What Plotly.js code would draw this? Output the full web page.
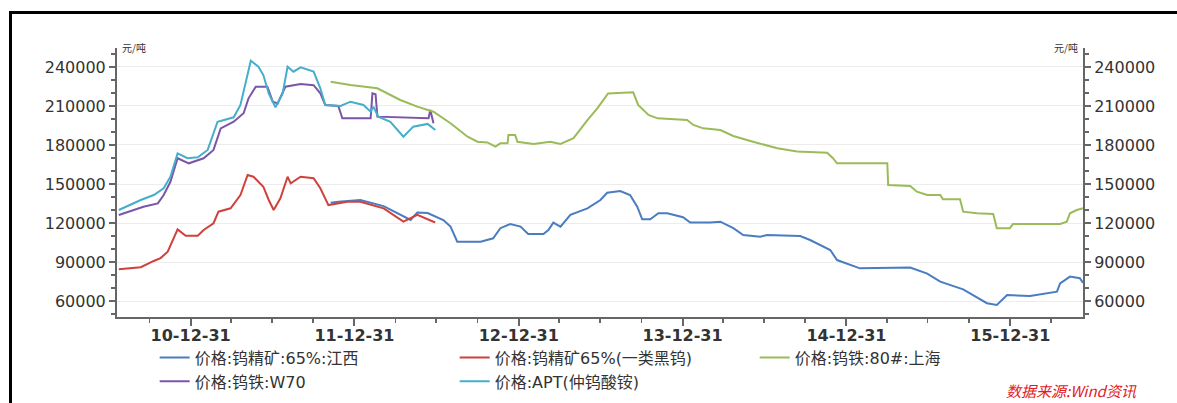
<!DOCTYPE html>
<html>
<head>
<meta charset="utf-8">
<script src="https://cdn.plot.ly/plotly-3.0.1.min.js"></script>
<style>
  html,body{margin:0;padding:0;background:#fff;}
  #wrap{position:relative;width:1177px;height:403px;overflow:hidden;}
  #chart{width:1177px;height:403px;}
  #frame{position:absolute;left:9px;top:11px;width:1300px;height:600px;border-left:3px solid #000;border-top:3px solid #000;pointer-events:none;}
</style>
</head>
<body>
<div id="wrap"><div id="chart"></div><div id="frame"></div></div>
<script>
// ---- data ----
const names = ["价格:钨精矿:65%:江西", "价格:钨精矿65%(一类黑钨)", "价格:钨铁:80#:上海", "价格:钨铁:W70", "价格:APT(仲钨酸铵)"];

const jxDates = ["2011-11-08","2011-11-25","2012-01-13","2012-03-05","2012-05-04","2012-05-19","2012-06-11","2012-07-16","2012-08-01","2012-08-16","2012-10-07","2012-11-04","2012-11-20","2012-12-12","2013-01-04","2013-01-21","2013-02-24","2013-03-07","2013-03-18","2013-04-03","2013-04-25","2013-06-02","2013-07-01","2013-07-16","2013-08-14","2013-09-05","2013-09-21","2013-10-02","2013-10-20","2013-11-07","2013-11-27","2014-01-01","2014-01-17","2014-03-03","2014-03-25","2014-04-23","2014-05-15","2014-06-22","2014-07-07","2014-09-19","2014-10-11","2014-11-25","2014-12-10","2015-01-08","2015-01-30","2015-05-22","2015-06-29","2015-07-28","2015-09-17","2015-10-09","2015-11-09","2015-12-01","2015-12-24","2016-02-13","2016-04-13","2016-04-20","2016-05-12","2016-06-03","2016-06-10"];
const jxValues = [135600,136400,137700,133000,122300,128000,127700,122300,117200,105600,105600,108200,116000,119200,117200,111600,111600,114600,120300,117200,126200,131300,137700,143300,144600,141500,132500,122800,122800,127500,127500,124400,120300,120300,121000,116000,110800,109500,110800,110000,106900,99200,91500,88200,85100,85800,81100,74900,69000,64600,58300,56900,64600,63800,67200,73500,78800,77500,74000];

const hwDates = ["2010-07-24","2010-09-11","2010-10-10","2010-10-25","2010-11-10","2010-12-02","2010-12-20","2011-01-16","2011-01-29","2011-02-20","2011-03-03","2011-03-30","2011-04-21","2011-05-07","2011-05-20","2011-06-11","2011-06-23","2011-07-04","2011-07-19","2011-08-04","2011-08-11","2011-09-02","2011-10-01","2011-10-16","2011-11-03","2011-12-15","2012-01-13","2012-03-05","2012-04-18","2012-05-19","2012-06-24","2012-06-28"];
const hwValues = [84400,86000,90800,93000,97900,115100,110200,110200,114600,119800,128700,131300,141500,156900,155600,147900,137700,130000,139000,155600,150500,155600,154400,146700,133800,136400,136400,131300,121000,126200,121000,120500];

const shDates = ["2011-11-08","2011-12-22","2012-02-20","2012-04-11","2012-05-19","2012-06-24","2012-08-01","2012-09-08","2012-09-30","2012-10-22","2012-11-09","2012-11-20","2012-12-06","2012-12-08","2012-12-23","2012-12-28","2013-02-02","2013-03-11","2013-04-03","2013-05-02","2013-06-02","2013-06-24","2013-07-18","2013-09-12","2013-09-23","2013-10-16","2013-11-05","2014-01-10","2014-01-24","2014-02-15","2014-03-25","2014-04-23","2014-06-06","2014-07-30","2014-09-12","2014-11-18","2014-12-01","2014-12-10","2015-04-01","2015-04-03","2015-05-22","2015-06-06","2015-06-29","2015-07-28","2015-08-03","2015-09-10","2015-09-17","2015-10-18","2015-11-23","2015-12-01","2015-12-30","2016-01-06","2016-04-20","2016-05-05","2016-05-12","2016-05-27","2016-06-10"];
const shValues = [228700,226200,223600,214600,209500,205600,196700,186400,182500,182000,178700,181300,181300,187700,187700,182500,180800,182500,180800,185200,199200,208200,219700,220500,210800,203100,200500,199200,195400,192800,191500,186900,182500,177500,175000,174000,169800,165900,165900,149200,148500,144100,141500,141500,138200,138200,128700,127500,127000,116000,116000,119200,119200,121000,127500,130000,131300];

const w70Dates = ["2010-07-24","2010-09-17","2010-10-19","2010-11-01","2010-11-16","2010-12-02","2010-12-27","2011-01-29","2011-02-20","2011-03-08","2011-04-06","2011-04-28","2011-05-09","2011-05-25","2011-06-20","2011-07-02","2011-07-13","2011-07-30","2011-09-02","2011-10-01","2011-10-16","2011-10-27","2011-11-25","2011-12-04","2012-02-05","2012-02-09","2012-02-16","2012-02-20","2012-06-13","2012-06-17","2012-06-24"];
const w70Values = [126200,132500,135100,141500,151700,169800,165900,169800,176200,192800,197900,204400,215900,224800,224800,213300,212000,224800,226900,226000,219700,210800,210000,200500,200500,219700,219000,201800,200500,206900,196700];

const aptDates = ["2010-07-24","2010-09-11","2010-10-10","2010-11-01","2010-11-16","2010-12-02","2010-12-24","2011-01-16","2011-02-07","2011-03-01","2011-04-06","2011-04-21","2011-05-14","2011-05-31","2011-06-11","2011-06-23","2011-07-08","2011-07-24","2011-08-04","2011-08-17","2011-09-02","2011-10-01","2011-10-16","2011-10-27","2011-11-30","2011-12-22","2012-01-20","2012-02-05","2012-02-11","2012-02-22","2012-03-20","2012-04-18","2012-05-10","2012-06-11","2012-06-28"];
const aptValues = [130000,137700,141500,146700,155600,173600,169800,170500,176200,197900,201300,210800,244800,240200,233800,219700,209000,219700,240200,236400,239700,236400,223600,210800,210000,213300,210800,205600,209500,201800,197900,186400,194100,196200,191500];

const xTickVals = ["2010-12-31","2011-12-31","2012-12-31","2013-12-31","2014-12-31","2015-12-31"];
const xTickText = ["10-12-31","11-12-31","12-12-31","13-12-31","14-12-31","15-12-31"];
const yTickVals = [60000,90000,120000,150000,180000,210000,240000];
const yTickText = ["60000","90000","120000","150000","180000","210000","240000"];

// ---- chart ----
const colors = ["#4a7cc0","#d0413c","#9bbb59","#7b55a8","#45aecb"];
function tr(x, y, i, axis){
  return {x:x, y:y, name:names[i], type:"scatter", mode:"lines",
    line:{color:colors[i], width:2}, yaxis:axis||"y", hoverinfo:"x+y+name"};
}
const data = [
  tr(jxDates, jxValues, 0),
  tr(hwDates, hwValues, 1),
  tr(shDates, shValues, 2, "y2"),
  tr(w70Dates, w70Values, 3),
  tr(aptDates, aptValues, 4)
];

const yRange = [47700, 254600];
const tickFont = {family:"DejaVu Sans, Verdana, sans-serif", size:16, color:"#333"};
const yBase = {
  range:yRange, tickmode:"array", tickvals:yTickVals, ticktext:yTickText,
  ticks:"outside", ticklen:6, tickwidth:2, tickcolor:"#666",
  showline:true, linecolor:"#666", linewidth:2, zeroline:false,
  tickfont:tickFont, fixedrange:true, automargin:false,
  minor:{ticks:"outside", ticklen:4, tickwidth:1.5, tickcolor:"#666", tick0:0, dtick:10000, showgrid:false}
};

const layout = {
  width:1177, height:403,
  margin:{l:117, r:94, t:48, b:86, autoexpand:false},
  paper_bgcolor:"#fff", plot_bgcolor:"#fff",
  showlegend:true,
  xaxis:{
    type:"date", range:["2010-07-20","2016-06-10"], automargin:false,
    tickmode:"array", tickvals:xTickVals, ticktext:xTickText,
    ticks:"outside", ticklen:7, tickwidth:2, tickcolor:"#666", ticklabelstandoff:-4,
    showline:true, linecolor:"#666", linewidth:2, showgrid:false, zeroline:false,
    tickfont:{family:"DejaVu Sans, Verdana, sans-serif", size:16, color:"#333", weight:"bold"},
    minor:{ticks:"outside", ticklen:4, tickwidth:1.5, tickcolor:"#666", tick0:"2010-12-31", dtick:"M3", showgrid:false}
  },
  yaxis:Object.assign({}, yBase, {showgrid:true, gridcolor:"#ececec", gridwidth:1}),
  yaxis2:Object.assign({}, yBase, {overlaying:"y", side:"right", showgrid:false}),
  legend:{
    orientation:"h", x:0.039, xanchor:"left", y:-0.088, yanchor:"top",
    entrywidth:255, entrywidthmode:"pixels", traceorder:"normal",
    font:{family:"DejaVu Sans, Noto Sans CJK SC, sans-serif", size:16, color:"#333"},
    bgcolor:"rgba(0,0,0,0)", itemclick:false
  },
  annotations:[
    {xref:"paper", yref:"paper", x:0, y:1, xanchor:"left", yanchor:"middle", xshift:3, yshift:1,
     text:"元/吨", showarrow:false, font:{family:"Noto Sans CJK SC", size:10, color:"#333"}},
    {xref:"paper", yref:"paper", x:1, y:1, xanchor:"right", yanchor:"middle", xshift:-3, yshift:1,
     text:"元/吨", showarrow:false, font:{family:"Noto Sans CJK SC", size:10, color:"#333"}},
    {xref:"paper", yref:"paper", x:0.9886, y:-0.318, xanchor:"center", yanchor:"bottom",
     text:"<i>数据来源:Wind资讯</i>", showarrow:false,
     font:{family:"Noto Sans CJK SC, sans-serif", size:15, color:"#e0201e"}}
  ]
};

Plotly.newPlot("chart", data, layout, {displayModeBar:false, staticPlot:true});
</script>
</body>
</html>
